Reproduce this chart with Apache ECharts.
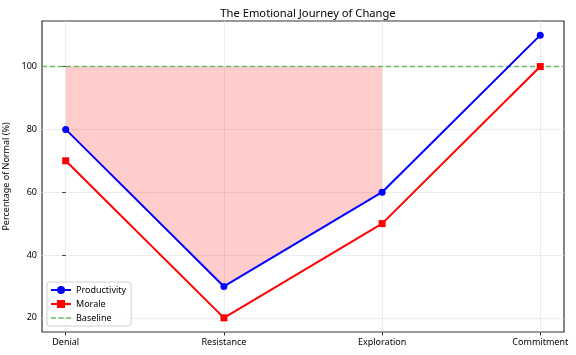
<!DOCTYPE html>
<html>
<head>
<meta charset="utf-8">
<script src="https://cdn.jsdelivr.net/npm/echarts@6/dist/echarts.min.js"></script>
<style>html,body{margin:0;padding:0;background:#fff;}#c{width:576px;height:355px;}</style>
</head>
<body>
<div id="c"></div>
<script>
const categories = ['Denial', 'Resistance', 'Exploration', 'Commitment'];
const productivity = [80, 30, 60, 110];
const morale = [70, 20, 50, 100];
const baseline = 100;
const fillRange = [0, 1, 2]; // indices where the gap to baseline is shaded
const yTicks = [20, 40, 60, 80, 100];

const idx = categories.map((_, i) => i);
const fillData = fillRange.map(i => [i, productivity[i]]);

const chart = echarts.init(document.getElementById('c'), null, {renderer: 'canvas'});
const font = 'Noto Sans';
chart.setOption({
  animation: false,
  backgroundColor: '#fff',
  textStyle: {fontFamily: font},
  title: {
    text: 'The Emotional Journey of Change',
    left: 303, top: 3, textAlign: 'center',
    textStyle: {fontSize: 11.2, fontWeight: 'normal', color: '#000', fontFamily: font}
  },
  grid: {left: 42, right: 12, top: 21, bottom: 23, show: true, borderColor: '#333', borderWidth: 1.2, backgroundColor: 'transparent', containLabel: false, outerBoundsMode: 'none'},
  legend: {
    left: 47, top: 282, orient: 'vertical',
    itemWidth: 20, itemHeight: 10, itemGap: 4,
    padding: [3, 5, 3, 3],
    backgroundColor: 'rgba(255,255,255,0.8)',
    borderColor: '#d0d0d0', borderWidth: 1, borderRadius: 3,
    textStyle: {fontSize: 9, color: '#000', fontFamily: font, lineHeight: 10},
    data: [
      'Productivity', 'Morale',
      {name: 'Baseline', icon: 'path://M0,0h5v1.3h-5zM7.5,0h5v1.3h-5zM15,0h5v1.3h-5z'}
    ]
  },
  xAxis: {
    type: 'value', min: -0.15, max: 3.15,
    axisLine: {show: false},
    axisTick: {show: true, customValues: idx, length: 3.5, lineStyle: {color: '#333'}},
    axisLabel: {customValues: idx, formatter: v => categories[Math.round(v)] || '', fontSize: 9, color: '#000', margin: 6, fontFamily: font},
    splitLine: {show: false}
  },
  yAxis: {
    type: 'value', min: 15.5, max: 114.5,
    name: 'Percentage of Normal (%)', nameLocation: 'middle', nameGap: 23, nameRotate: 90,
    nameTextStyle: {fontSize: 9, color: '#000', fontFamily: font},
    axisLine: {show: false},
    axisTick: {show: true, customValues: yTicks, length: 3.5, lineStyle: {color: '#333'}},
    axisLabel: {customValues: yTicks, fontSize: 9, color: '#000', margin: 5, fontFamily: font},
    splitLine: {show: false}
  },
  series: [
    {
      name: 'grid', type: 'line', data: [], silent: true, z: 0,
      markLine: {
        silent: true, symbol: 'none', label: {show: false}, z: 0,
        lineStyle: {color: '#e8e8e8', width: 0.8, type: 'solid'},
        data: idx.map(i => ({xAxis: i})).concat(yTicks.map(v => ({yAxis: v})))
      }
    },
    {
      name: 'fill', type: 'line', data: fillData,
      symbol: 'none', silent: true, z: 1,
      lineStyle: {width: 0.8, color: 'rgba(255,0,0,0.1)'},
      areaStyle: {color: 'rgba(255,0,0,0.2)', opacity: 1, origin: baseline}
    },
    {
      name: 'Baseline', type: 'line', data: [], color: '#66bb66',
      lineStyle: {type: [5, 3], width: 1.3, color: '#66bb66'}, symbol: 'none',
      itemStyle: {color: '#66bb66'},
      markLine: {
        silent: true, symbol: 'none', label: {show: false}, z: 2,
        lineStyle: {color: '#66bb66', width: 1.3, type: [5, 3]},
        data: [{yAxis: baseline}]
      }
    },
    {
      name: 'Productivity', type: 'line', color: '#0000ff',
      data: idx.map(i => [i, productivity[i]]),
      symbol: 'circle', symbolSize: 7,
      lineStyle: {width: 2, color: '#0000ff'}, itemStyle: {color: '#0000ff'}, z: 4
    },
    {
      name: 'Morale', type: 'line', color: '#ff0000',
      data: idx.map(i => [i, morale[i]]),
      symbol: 'rect', symbolSize: 7,
      lineStyle: {width: 2, color: '#ff0000'}, itemStyle: {color: '#ff0000'}, z: 4
    }
  ]
});
</script>
</body>
</html>
